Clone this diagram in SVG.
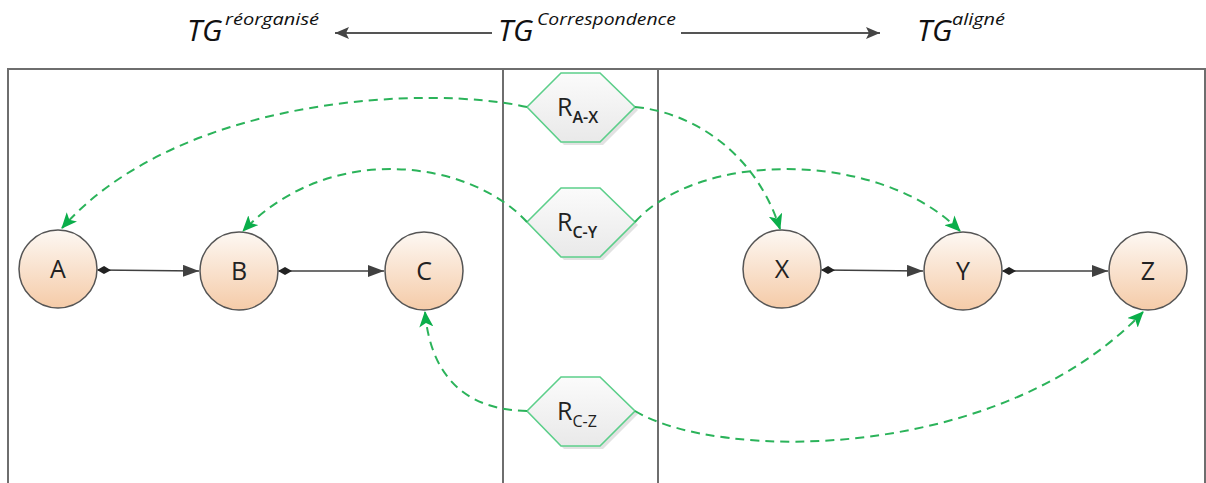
<svg xmlns="http://www.w3.org/2000/svg" width="1206" height="483" viewBox="0 0 1206 483">
<style>
.frame{fill:none;stroke:#6e6e6e;stroke-width:2}
.node circle{fill:url(#peach);stroke:#555;stroke-width:1.5}
.node text{font-family:"Open Sans","Liberation Sans",sans-serif;font-size:25px;fill:#222;text-anchor:middle}
.hex polygon.body{fill:url(#hexfill);stroke:#5ccf8a;stroke-width:1.6}
.hex polygon.shadow{fill:#cfcfcf;opacity:0.6}
.hex text{font-family:"Open Sans","Liberation Sans",sans-serif;fill:#222}
.edge{fill:none;stroke:#404040;stroke-width:1.6}
.link{fill:none;stroke:#2bb35a;stroke-width:2;stroke-dasharray:9 6}
.title{font-family:"Open Sans","Liberation Sans",sans-serif;font-style:italic;fill:#111}
.harrow{fill:none;stroke:#555;stroke-width:2}
</style>
<defs>
<linearGradient id="peach" x1="0" y1="0" x2="0" y2="1">
<stop offset="0" stop-color="#fdf8f3"/>
<stop offset="1" stop-color="#f5cba8"/>
</linearGradient>
<linearGradient id="hexfill" x1="0" y1="0" x2="0" y2="1">
<stop offset="0" stop-color="#fbfbfb"/>
<stop offset="1" stop-color="#e9e9e9"/>
</linearGradient>
<marker id="diamond" markerUnits="userSpaceOnUse" markerWidth="14" markerHeight="10" viewBox="0 0 14 10" refX="1" refY="5" orient="auto">
<path d="M0,5 L7,1 L14,5 L7,9 Z" fill="#222"/>
</marker>
<marker id="arr" markerUnits="userSpaceOnUse" markerWidth="16" markerHeight="12" viewBox="0 0 16 12" refX="16" refY="6" orient="auto">
<path d="M0,0 L16,6 L0,12 Z" fill="#404040"/>
</marker>
<marker id="garr" markerUnits="userSpaceOnUse" markerWidth="16" markerHeight="14" viewBox="0 0 16 14" refX="15" refY="7" orient="auto">
<path d="M0,0 L16,7 L0,14 L4,7 Z" fill="#0aae4a"/>
</marker>
<marker id="harr" markerUnits="userSpaceOnUse" markerWidth="14" markerHeight="12" viewBox="0 0 14 12" refX="14" refY="6" orient="auto">
<path d="M0,0 L14,6 L0,12 L3,6 Z" fill="#444"/>
</marker>
</defs>

<g id="frame">
<path class="frame" d="M8,483 V69 H1205 V483"/>
<line class="frame" x1="503" y1="69" x2="503" y2="483"/>
<line class="frame" x1="658" y1="69" x2="658" y2="483"/>
</g>

<g id="titles">
<text class="title" x="187" y="41" font-size="30">TG</text>
<text class="title" x="225" y="25" font-size="17" textLength="94" lengthAdjust="spacingAndGlyphs">réorganisé</text>
<text class="title" x="498" y="41" font-size="30">TG</text>
<text class="title" x="537" y="25" font-size="17" textLength="139" lengthAdjust="spacingAndGlyphs">Correspondence</text>
<text class="title" x="917" y="41" font-size="30">TG</text>
<text class="title" x="952" y="25" font-size="17" textLength="53" lengthAdjust="spacingAndGlyphs">aligné</text>
<line class="harrow" x1="492" y1="33" x2="335" y2="33" marker-end="url(#harr)"/>
<line class="harrow" x1="681" y1="33" x2="880" y2="33" marker-end="url(#harr)"/>
</g>

<g id="node-A" class="node"><circle cx="58" cy="269" r="39"/><text x="58" y="278">A</text></g>
<g id="node-B" class="node"><circle cx="239" cy="271" r="39"/><text x="239" y="280">B</text></g>
<g id="node-C" class="node"><circle cx="424" cy="271" r="39"/><text x="424" y="280">C</text></g>
<g id="node-X" class="node"><circle cx="782" cy="269" r="39"/><text x="782" y="278">X</text></g>
<g id="node-Y" class="node"><circle cx="963" cy="271" r="39"/><text x="963" y="280">Y</text></g>
<g id="node-Z" class="node"><circle cx="1148" cy="271" r="39"/><text x="1148" y="280">Z</text></g>

<g id="hex-RAX" class="hex">
<polygon class="shadow" points="530,110 564,76 603,76 638,110 603,145 564,145"/>
<polygon class="body" points="527,107 561,73 600,73 635,107 600,142 561,142"/>
<text x="557" y="116" font-size="25">R<tspan font-size="16" dy="7" font-weight="600">A-X</tspan></text>
</g>
<g id="hex-RCY" class="hex">
<polygon class="shadow" points="530,225 564,191 603,191 638,225 603,260 564,260"/>
<polygon class="body" points="527,222 561,188 600,188 635,222 600,257 561,257"/>
<text x="557" y="231" font-size="25">R<tspan font-size="16" dy="7" font-weight="600">C-Y</tspan></text>
</g>
<g id="hex-RCZ" class="hex">
<polygon class="shadow" points="530,414 564,380 603,380 638,414 603,449 564,449"/>
<polygon class="body" points="527,411 561,377 600,377 635,411 600,446 561,446"/>
<text x="557" y="420" font-size="25">R<tspan font-size="16" dy="7">C-Z</tspan></text>
</g>

<g id="connectors">
<line class="edge" x1="98" y1="270" x2="199" y2="271" marker-start="url(#diamond)" marker-end="url(#arr)"/>
<line class="edge" x1="279" y1="271" x2="384" y2="271" marker-start="url(#diamond)" marker-end="url(#arr)"/>
<line class="edge" x1="822" y1="270" x2="923" y2="271" marker-start="url(#diamond)" marker-end="url(#arr)"/>
<line class="edge" x1="1003" y1="271" x2="1108" y2="271" marker-start="url(#diamond)" marker-end="url(#arr)"/>
<path class="link" d="M527,107 C430,85 180,95 62,228" marker-end="url(#garr)"/>
<path class="link" d="M635,107 C690,112 755,150 780,229" marker-end="url(#garr)"/>
<path class="link" d="M527,222 C470,160 330,140 243,231" marker-end="url(#garr)"/>
<path class="link" d="M635,222 C700,150 880,150 960,231" marker-end="url(#garr)"/>
<path class="link" d="M527,411 C460,410 430,370 425,312" marker-end="url(#garr)"/>
<path class="link" d="M635,411 C720,462 1000,462 1143,312" marker-end="url(#garr)"/>
</g>
</svg>
